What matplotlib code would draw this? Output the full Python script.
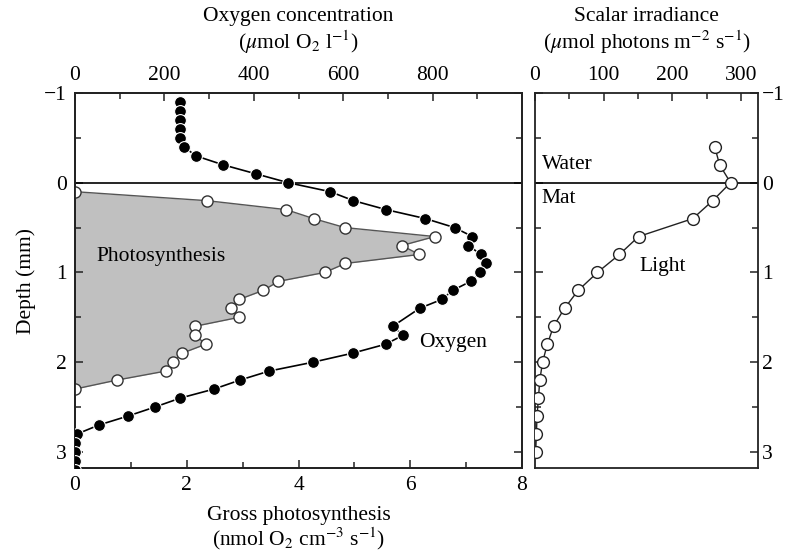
import matplotlib
matplotlib.use("Agg")
import matplotlib.pyplot as plt
from matplotlib.ticker import MultipleLocator

plt.rcParams['font.family'] = ['Liberation Serif', 'DejaVu Serif']
plt.rcParams['mathtext.fontset'] = 'stix'

# Oxygen profile (umol O2 l-1) vs depth (mm)
o2_depth = [-0.9, -0.8, -0.7, -0.6, -0.5, -0.4, -0.3, -0.2, -0.1, 0.0,
            0.1, 0.2, 0.3, 0.4, 0.5, 0.6, 0.7, 0.8, 0.9, 1.0,
            1.1, 1.2, 1.3, 1.4, 1.6, 1.7, 1.8, 1.9, 2.0,
            2.1, 2.2, 2.3, 2.4, 2.5, 2.6, 2.7, 2.8, 2.9, 3.0, 3.1, 3.2]
o2_conc = [235, 235, 235, 235, 235, 244, 270, 331, 404, 477,
           571, 623, 696, 784, 849, 889, 879, 909, 920, 905,
           885, 845, 821, 771, 711, 734, 695, 621, 533,
           434, 369, 311, 236, 179, 119, 54, 5, 0, 0, 0, 0]

# Gross photosynthesis (nmol O2 cm-3 s-1) vs depth (mm)
ps_depth = [0.1, 0.2, 0.3, 0.4, 0.5, 0.6, 0.7, 0.8, 0.9, 1.0,
            1.1, 1.2, 1.3, 1.4, 1.5, 1.6, 1.7, 1.8, 1.9, 2.0,
            2.1, 2.2, 2.3]
ps_rate = [0.0, 2.36, 3.78, 4.27, 4.83, 6.44, 5.85, 6.16, 4.84, 4.47,
           3.64, 3.37, 2.94, 2.79, 2.94, 2.15, 2.15, 2.34, 1.92, 1.76,
           1.62, 0.75, 0.0]

# Scalar irradiance (umol photons m-2 s-1) vs depth (mm)
li_depth = [-0.4, -0.2, 0.0, 0.2, 0.4, 0.6, 0.8, 1.0, 1.2, 1.4,
            1.6, 1.8, 2.0, 2.2, 2.4, 2.6, 2.8, 3.0]
li_irr = [262, 269, 285, 259, 230, 151, 123, 91, 63, 43,
          27, 18, 11, 7, 5, 3, 2, 1]

FS = 15.5
fig = plt.figure(figsize=(7.86, 5.58), dpi=100)
axL = fig.add_axes([75/786, 1-468/558, 447/786, 375/558])
axR = fig.add_axes([535/786, 1-468/558, 223/786, 375/558])

spine_c = '#222222'

def style(ax):
    for s in ax.spines.values():
        s.set_linewidth(1.3)
        s.set_color(spine_c)
    ax.tick_params(which='both', direction='in', colors=spine_c, labelcolor='black',
                   labelsize=FS, width=1.1)
    ax.tick_params(which='major', length=6)
    ax.tick_params(which='minor', length=4)
    ax.tick_params(axis='x', which='major', pad=6)
    ax.tick_params(axis='y', which='major', pad=6)

# Left panel: photosynthesis
axL.fill_betweenx(ps_depth, 0, ps_rate, color='#c0c0c0', linewidth=0, zorder=1)
axL.plot(ps_rate, ps_depth, '-', color='#555555', lw=1.0, marker='o', ms=8,
         mfc='white', mec='#333333', mew=1.0, zorder=4)
axL.set_xlim(0, 8)
axL.set_ylim(3.18, -1.0)
axL.xaxis.set_major_locator(MultipleLocator(2))
axL.xaxis.set_minor_locator(MultipleLocator(1))
axL.yaxis.set_major_locator(MultipleLocator(1))
axL.yaxis.set_minor_locator(MultipleLocator(0.5))
axL.yaxis.set_ticks_position('both')
axL.axhline(0, color='black', lw=1.2, zorder=2)
style(axL)
axL.set_yticks([-1, 0, 1, 2, 3])
axL.set_yticklabels(['\u22121', '0', '1', '2', '3'])
axL.set_ylabel('Depth (mm)', fontsize=FS, labelpad=6)
axL.set_xlabel('Gross photosynthesis\n(nmol O$_2$ cm$^{-3}$ s$^{-1}$)', fontsize=FS,
               linespacing=1.0, labelpad=8)
axL.text(0.38, 0.82, 'Photosynthesis', fontsize=FS, va='center', ha='left', zorder=5)
axL.text(6.15, 1.78, 'Oxygen', fontsize=FS, va='center', ha='left', zorder=5)

# Oxygen on top axis
axO = axL.twiny()
axO.plot(o2_conc, o2_depth, '-', color='black', lw=1.2, marker='o', ms=8.5,
         mfc='black', mec='white', mew=0.8, zorder=4)
axO.set_xlim(0, 1000)
axO.set_ylim(3.18, -1.0)
axO.xaxis.set_major_locator(MultipleLocator(200))
axO.xaxis.set_minor_locator(MultipleLocator(100))
axO.set_xticks([0, 200, 400, 600, 800])
style(axO)
axO.set_xlabel('Oxygen concentration\n($\\mu$mol O$_2$ l$^{-1}$)', fontsize=FS,
               linespacing=1.1, labelpad=12)

# Right panel: light
axR.plot(li_irr, li_depth, '-', color='#222222', lw=1.0, marker='o', ms=8.5,
         mfc='white', mec='#222222', mew=1.0, zorder=4)
axR.axhline(0, color='black', lw=1.2, zorder=2)
axR.set_xlim(0, 325)
axR.set_ylim(3.18, -1.0)
axR.xaxis.set_major_locator(MultipleLocator(100))
axR.xaxis.set_minor_locator(MultipleLocator(50))
axR.yaxis.set_major_locator(MultipleLocator(1))
axR.yaxis.set_minor_locator(MultipleLocator(0.5))
axR.xaxis.set_ticks_position('top')
axR.xaxis.set_label_position('top')
axR.yaxis.set_ticks_position('both')
axR.tick_params(axis='y', labelleft=False, labelright=True)
style(axR)
axR.tick_params(axis='y', which='major', pad=3)
axR.set_yticks([-1, 0, 1, 2, 3])
axR.set_yticklabels(['\u22121', '0', '1', '2', '3'])
axR.set_xticks([0, 100, 200, 300])
axR.set_xlabel('Scalar irradiance\n($\\mu$mol photons m$^{-2}$ s$^{-1}$)', fontsize=FS,
               linespacing=1.1, labelpad=12)
axR.text(10, -0.2, 'Water', fontsize=FS, va='center', ha='left')
axR.text(10, 0.18, 'Mat', fontsize=FS, va='center', ha='left')
axR.text(152, 0.93, 'Light', fontsize=FS, va='center', ha='left')

fig.savefig('out.png', dpi=100)
